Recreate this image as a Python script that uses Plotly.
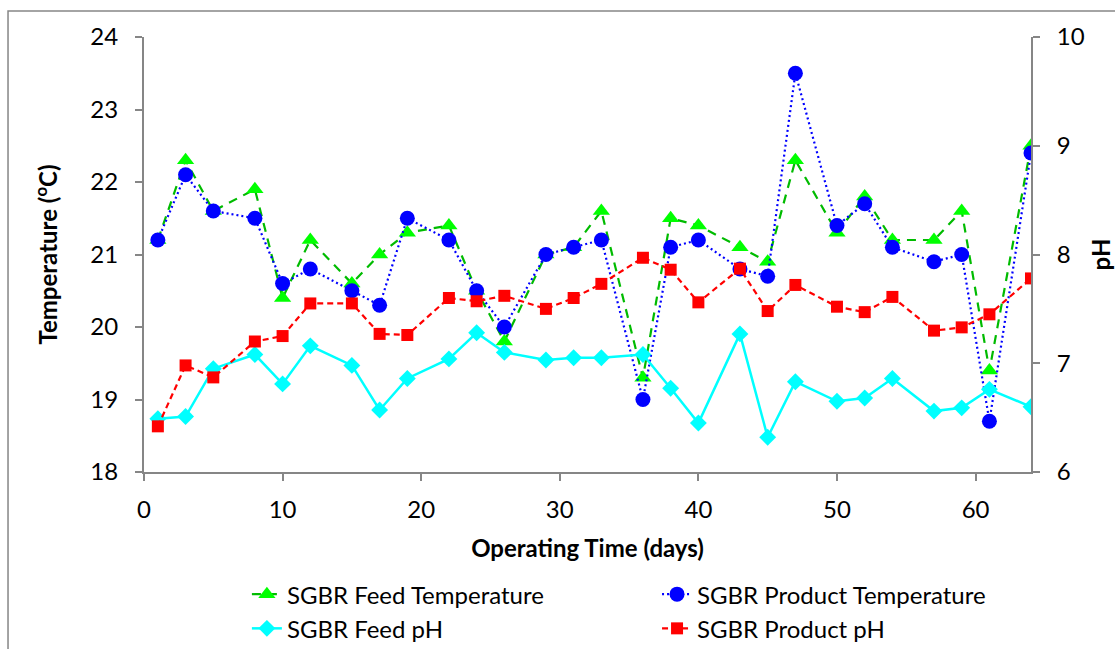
import plotly.graph_objects as go

days = [1, 3, 5, 8, 10, 12, 15, 17, 19, 22, 24, 26, 29, 31, 33, 36, 38, 40,
        43, 45, 47, 50, 52, 54, 57, 59, 61, 64]

feed_temp = [21.2, 22.3, 21.6, 21.9, 20.4, 21.2, 20.6, 21.0, 21.3, 21.4, 20.5, 19.8,
             21.0, 21.1, 21.6, 19.3, 21.5, 21.4, 21.1, 20.9, 22.3, 21.3, 21.8, 21.2,
             21.2, 21.6, 19.4, 22.5]

product_temp = [21.2, 22.1, 21.6, 21.5, 20.6, 20.8, 20.5, 20.3, 21.5, 21.2, 20.5, 20.0,
                21.0, 21.1, 21.2, 19.0, 21.1, 21.2, 20.8, 20.7, 23.5, 21.4, 21.7, 21.1,
                20.9, 21.0, 18.7, 22.4]

feed_ph = [6.49, 6.51, 6.95, 7.08, 6.81, 7.16, 6.98, 6.57, 6.86, 7.04, 7.28, 7.10,
           7.03, 7.05, 7.05, 7.08, 6.77, 6.45, 7.27, 6.32, 6.83, 6.65, 6.68, 6.86,
           6.56, 6.59, 6.76, 6.60]

product_ph = [6.42, 6.98, 6.87, 7.20, 7.25, 7.55, 7.55, 7.27, 7.26, 7.60, 7.57, 7.62,
              7.50, 7.60, 7.73, 7.97, 7.86, 7.56, 7.87, 7.48, 7.72, 7.52, 7.47, 7.61,
              7.30, 7.33, 7.45, 7.78]

x_ticks = [0, 10, 20, 30, 40, 50, 60]
temp_ticks = [18, 19, 20, 21, 22, 23, 24]
ph_ticks = [6, 7, 8, 9, 10]

FONT = "Lato"
FS = 24
AXIS_COLOR = "#868686"

fig = go.Figure()

fig.add_trace(go.Scatter(
    x=days, y=feed_temp, name="SGBR Feed Temperature", mode="lines+markers",
    line=dict(color="#00BB00", width=2.2, dash="9px,7px"),
    marker=dict(symbol="triangle-up", size=15, color="#00FF00"),
    yaxis="y", legend="legend"))

fig.add_trace(go.Scatter(
    x=days, y=product_temp, name="SGBR Product Temperature", mode="lines+markers",
    line=dict(color="#0000FF", width=2.2, dash="2px,3px"),
    marker=dict(symbol="circle", size=15, color="#0000FF"),
    yaxis="y", legend="legend2"))

fig.add_trace(go.Scatter(
    x=days, y=feed_ph, name="SGBR Feed pH", mode="lines+markers",
    line=dict(color="#00FFFF", width=2.5),
    marker=dict(symbol="diamond", size=13, color="#00FFFF"),
    yaxis="y2", legend="legend"))

fig.add_trace(go.Scatter(
    x=days, y=product_ph, name="SGBR Product pH", mode="lines+markers",
    line=dict(color="#FF0000", width=2.2, dash="6px,4px"),
    marker=dict(symbol="square", size=12, color="#FF0000"),
    yaxis="y2", legend="legend2"))

axis_common = dict(
    showgrid=False, zeroline=False, showline=True, linecolor=AXIS_COLOR,
    linewidth=2, ticks="outside", ticklen=7, tickwidth=2, tickcolor=AXIS_COLOR,
    tickfont=dict(family=FONT, size=FS, color="#000000"),
    automargin=False,
)

legend_common = dict(
    orientation="v", xanchor="left", yanchor="top", y=-0.23,
    traceorder="normal", tracegroupgap=0,
    font=dict(family=FONT, size=FS, color="#000000"),
    bgcolor="rgba(0,0,0,0)",
)

fig.update_layout(
    width=1115, height=649,
    margin=dict(l=144, r=84, t=37, b=177, autoexpand=False),
    paper_bgcolor="#FFFFFF", plot_bgcolor="#FFFFFF",
    font=dict(family=FONT, color="#000000"),
    xaxis=dict(
        range=[0, 64], tickvals=x_ticks, ticklabelstandoff=8,
        title=dict(text="<b>Operating Time (days)</b>", font=dict(family=FONT, size=FS),
                   standoff=18),
        **axis_common),
    yaxis=dict(
        range=[18, 24], tickvals=temp_ticks, ticklabelstandoff=12,
        title=dict(text="<b>Temperature (<sup>o</sup>C)</b>", font=dict(family=FONT, size=FS),
                   standoff=26),
        **axis_common),
    yaxis2=dict(
        range=[6, 10], tickvals=ph_ticks, overlaying="y", side="right",
        ticklabelstandoff=12,
        title=dict(text="<b>pH</b>", font=dict(family=FONT, size=FS), standoff=17),
        **axis_common),
    legend=dict(x=0.116, **legend_common),
    legend2=dict(x=0.5784, **legend_common),
    shapes=[dict(
        type="rect", xref="paper", yref="paper",
        x0=-0.1533, x1=1.11, y0=-0.43, y1=1.0598,
        line=dict(color=AXIS_COLOR, width=1.5), fillcolor="rgba(0,0,0,0)",
        layer="below")],
)

fig.write_html("out.html")
